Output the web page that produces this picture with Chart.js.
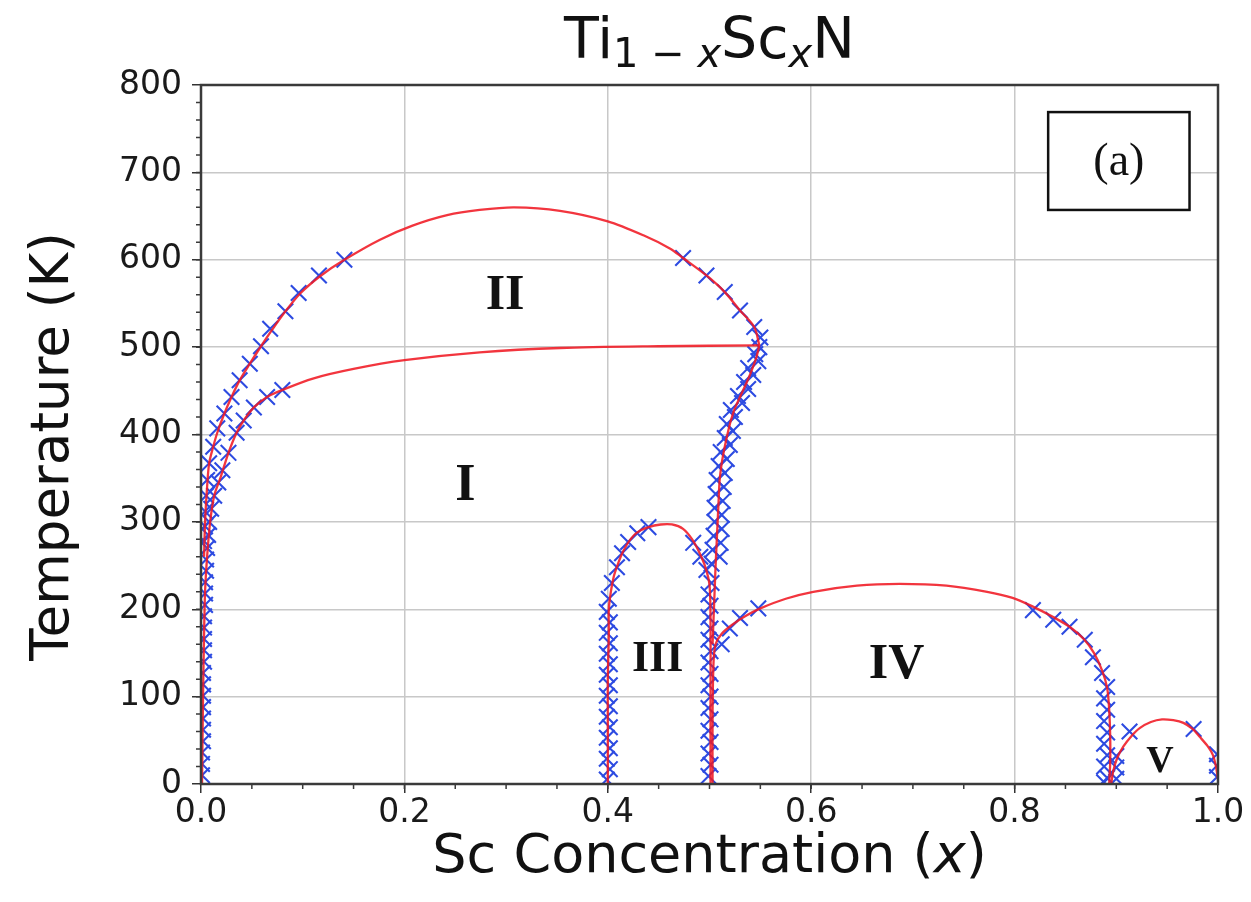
<!DOCTYPE html>
<html>
<head>
<meta charset="utf-8">
<script src="https://cdn.jsdelivr.net/npm/chart.js@4"></script>
<style>
  html, body { margin: 0; padding: 0; background: #fff; }
  #wrap { width: 1251px; height: 902px; }
</style>
</head>
<body>
<div id="wrap"><canvas id="chart" width="1251" height="902"></canvas></div>
<script>
// tick labels
const xTickValues = [0, 0.2, 0.4, 0.6, 0.8, 1.0];
const yTickValues = [0, 100, 200, 300, 400, 500, 600, 700, 800];

// fitted phase boundaries (red lines)
const fitIIx = [0.003, 0.004, 0.006, 0.008, 0.012, 0.016, 0.023, 0.030, 0.038, 0.048, 0.059, 0.070, 0.083, 0.098, 0.118, 0.141, 0.176, 0.208, 0.242, 0.274, 0.308, 0.353, 0.400, 0.435, 0.461, 0.474, 0.497, 0.515, 0.530, 0.544, 0.549];
const fitIIy = [260, 300, 340, 367, 386, 402, 424, 443, 462, 481, 501, 520, 541, 562, 582, 600, 623, 639, 651, 657, 660, 656, 644, 628, 613, 602, 582, 563, 542, 523, 502];

const fitIx = [0.001, 0.002, 0.003, 0.004, 0.006, 0.009, 0.013, 0.019, 0.027, 0.035, 0.042, 0.052, 0.065, 0.080, 0.110, 0.150, 0.200, 0.274, 0.353, 0.450, 0.549];
const fitIy = [0, 100, 170, 220, 260, 300, 330, 350, 379, 402, 416, 431, 443, 451, 464, 475, 485, 494, 499, 501, 502];

const fitIRx = [0.549, 0.546, 0.541, 0.536, 0.530, 0.525, 0.521, 0.518, 0.515, 0.512, 0.510, 0.509, 0.508, 0.507, 0.506, 0.505, 0.504, 0.503];
const fitIRy = [502, 488, 472, 458, 443, 430, 416, 402, 386, 367, 348, 325, 300, 275, 250, 220, 190, 160];

const fitIIIx = [0.400, 0.400, 0.400, 0.401, 0.401, 0.403, 0.406, 0.410, 0.415, 0.421, 0.429, 0.440, 0.452, 0.463, 0.474, 0.483, 0.490, 0.496, 0.500, 0.501, 0.501, 0.501];
const fitIIIy = [0, 60, 120, 170, 200, 220, 238, 252, 266, 278, 288, 294, 297, 297, 292, 280, 265, 248, 228, 190, 100, 0];

const fitIVx = [0.503, 0.503, 0.504, 0.506, 0.512, 0.522, 0.535, 0.550, 0.575, 0.602, 0.645, 0.687, 0.733, 0.773, 0.798, 0.818, 0.838, 0.854, 0.868, 0.878, 0.886, 0.891, 0.893, 0.894, 0.894, 0.893];
const fitIVy = [0, 80, 140, 160, 172, 182, 192, 201, 212, 220, 227, 229, 227, 220, 213, 203, 191, 180, 166, 150, 130, 110, 85, 55, 25, 0];

const fitVx = [0.895, 0.897, 0.901, 0.907, 0.915, 0.923, 0.934, 0.945, 0.956, 0.966, 0.975, 0.982, 0.990, 0.995, 0.998, 1.000];
const fitVy = [0, 15, 30, 43, 55, 64, 71, 74, 73, 70, 63, 54, 43, 33, 20, 5];

// calculated transition points (blue crosses)
const calcIIx = [0.003, 0.004, 0.004, 0.005, 0.006, 0.008, 0.012, 0.016, 0.023, 0.030, 0.038, 0.048, 0.059, 0.068, 0.083, 0.096, 0.116, 0.141, 0.474, 0.497, 0.515, 0.530, 0.544, 0.550, 0.549];
const calcIIy = [278, 295, 312, 330, 348, 367, 386, 407, 424, 443, 462, 481, 501, 521, 541, 562, 582, 600, 602, 582, 563, 542, 523, 511, 500];

const calcIx = [0.080, 0.065, 0.052, 0.042, 0.035, 0.027, 0.021, 0.017, 0.013, 0.010, 0.008, 0.007, 0.006,
  0.005, 0.005, 0.004, 0.004, 0.004, 0.003, 0.003, 0.003, 0.003, 0.003, 0.002, 0.002, 0.002, 0.002, 0.002, 0.002, 0.002, 0.001, 0.001, 0.001];
const calcIy = [451, 443, 431, 416, 402, 379, 359, 345, 330, 315, 300, 285, 270,
  257, 244, 231, 218, 205, 192, 179, 166, 153, 140, 127, 114, 101, 88, 75, 62, 49, 36, 23, 10];

const calcIRx = [0.545, 0.548, 0.538, 0.543, 0.534, 0.538, 0.528, 0.532, 0.521, 0.525, 0.517, 0.523, 0.515, 0.520, 0.511, 0.517, 0.509, 0.515, 0.507, 0.514, 0.506, 0.513, 0.505, 0.512, 0.505, 0.512, 0.504, 0.511, 0.503, 0.510, 0.502];
const calcIRy = [492, 484, 476, 468, 460, 452, 444, 436, 428, 420, 412, 404, 396, 388, 380, 372, 364, 356, 348, 340, 332, 324, 316, 308, 300, 292, 284, 276, 268, 260, 252];

const calcIIIx = [0.399, 0.402, 0.399, 0.402, 0.399, 0.402, 0.399, 0.402, 0.399, 0.402, 0.399, 0.402, 0.399, 0.402, 0.399, 0.402, 0.399,
  0.401, 0.404, 0.409, 0.414, 0.420, 0.429, 0.440, 0.484, 0.491, 0.497, 0.502,
  0.499, 0.501, 0.499, 0.501, 0.499, 0.501, 0.499, 0.501, 0.499, 0.501, 0.499, 0.501, 0.499, 0.501, 0.499, 0.501, 0.499];
const calcIIIy = [5, 17, 29, 41, 53, 65, 77, 89, 101, 113, 125, 137, 149, 161, 173, 185, 197,
  212, 230, 248, 264, 277, 287, 294, 276, 260, 245, 230,
  217, 204, 191, 178, 165, 152, 139, 126, 113, 100, 87, 74, 61, 48, 35, 22, 9];

const calcIVx = [0.512, 0.520, 0.530, 0.548, 0.818, 0.838, 0.854, 0.869, 0.877, 0.886, 0.891, 0.888, 0.891, 0.888, 0.891, 0.888, 0.891, 0.888, 0.891, 0.888];
const calcIVy = [160, 178, 190, 201, 199, 188, 180, 165, 145, 127, 111, 98, 85, 72, 59, 46, 33, 20, 7, 2];

const calcVx = [0.900, 0.900, 0.900, 0.913, 0.976, 0.999, 0.999, 0.999];
const calcVy = [6, 19, 32, 60, 63, 8, 21, 34];

const RED = 'rgba(240,25,35,0.88)';
const BLUE = 'rgb(45,75,225)';

const pts = (xs, ys) => xs.map((x, i) => ({ x: x, y: ys[i] }));

function fitLine(xs, ys) {
  return { data: pts(xs, ys), showLine: true, borderColor: RED, borderWidth: 2.3,
    pointRadius: 0, tension: 0.3, fill: false, order: 0 };
}
function crosses(xs, ys) {
  return { data: pts(xs, ys), showLine: false, pointStyle: 'crossRot', pointRadius: 11,
    pointBorderWidth: 2.1, borderColor: BLUE, backgroundColor: BLUE, order: 1 };
}

function richText(ctx, parts, x, y, align) {
  let w = 0;
  parts.forEach(p => { ctx.font = p.font; p.w = ctx.measureText(p.t).width; w += p.w; });
  let cx = align === 'center' ? x - w / 2 : x;
  ctx.textAlign = 'left';
  parts.forEach(p => { ctx.font = p.font; ctx.fillText(p.t, cx, y + (p.dy || 0)); cx += p.w; });
}

const SANS = '"DejaVu Sans", sans-serif';
const SERIF = '"Liberation Serif", "Times New Roman", serif';

const decor = {
  id: 'decor',
  afterDatasetsDraw(chart) {
    const ctx = chart.ctx;
    const a = chart.chartArea;
    const xs = chart.scales.x, ys = chart.scales.y;
    ctx.save();

    // frame
    ctx.strokeStyle = '#3a3a3a';
    ctx.lineWidth = 2.5;
    ctx.strokeRect(a.left, a.top, a.right - a.left, a.bottom - a.top);

    // minor ticks
    ctx.lineWidth = 1.5;
    ctx.beginPath();
    for (let v = 0.05; v < 1; v += 0.05) {
      const px = xs.getPixelForValue(v);
      ctx.moveTo(px, a.bottom); ctx.lineTo(px, a.bottom + 5);
    }
    for (let v = 20; v < 800; v += 20) {
      const py = ys.getPixelForValue(v);
      ctx.moveTo(a.left, py); ctx.lineTo(a.left - 5, py);
    }
    ctx.stroke();

    // region labels
    ctx.fillStyle = '#111';
    ctx.textAlign = 'center';
    ctx.textBaseline = 'middle';
    chart.options.plugins.decor.regions.forEach(r => {
      ctx.font = 'bold ' + r.size + 'px ' + SERIF;
      ctx.fillText(r.text, xs.getPixelForValue(r.x), ys.getPixelForValue(r.y));
    });

    // (a) box
    const b = chart.options.plugins.decor.box;
    const bx0 = xs.getPixelForValue(b.x0), bx1 = xs.getPixelForValue(b.x1);
    const by0 = ys.getPixelForValue(b.y0), by1 = ys.getPixelForValue(b.y1);
    ctx.fillStyle = '#fff';
    ctx.fillRect(bx0, by0, bx1 - bx0, by1 - by0);
    ctx.strokeStyle = '#111';
    ctx.lineWidth = 2.5;
    ctx.strokeRect(bx0, by0, bx1 - bx0, by1 - by0);
    ctx.fillStyle = '#111';
    ctx.font = '46px ' + SERIF;
    ctx.fillText(b.text, (bx0 + bx1) / 2, (by0 + by1) / 2 + 2);

    // title
    ctx.textBaseline = 'alphabetic';
    ctx.fillStyle = '#111';
    const big = '57px ' + SANS, sub = '40px ' + SANS, subI = 'italic 40px ' + SANS;
    richText(ctx, [
      { t: 'Ti', font: big },
      { t: '1 \u2212 ', font: sub, dy: 9 },
      { t: 'x', font: subI, dy: 9 },
      { t: 'Sc', font: big },
      { t: 'x', font: subI, dy: 9 },
      { t: 'N', font: big }
    ], (a.left + a.right) / 2, 58, 'center');

    // x axis title
    richText(ctx, [
      { t: 'Sc Concentration (', font: '54px ' + SANS },
      { t: 'x', font: 'italic 54px ' + SANS },
      { t: ')', font: '54px ' + SANS }
    ], (a.left + a.right) / 2, 872, 'center');

    // y axis title
    ctx.translate(68, (a.top + a.bottom) / 2 + 12);
    ctx.rotate(-Math.PI / 2);
    richText(ctx, [{ t: 'Temperature (K)', font: '53px ' + SANS }], 0, 0, 'center');

    ctx.restore();
  }
};

new Chart(document.getElementById('chart'), {
  type: 'scatter',
  data: {
    datasets: [
      fitLine(fitIIx, fitIIy),
      fitLine(fitIx, fitIy),
      fitLine(fitIRx, fitIRy),
      fitLine(fitIIIx, fitIIIy),
      fitLine(fitIVx, fitIVy),
      fitLine(fitVx, fitVy),
      crosses(calcIIx, calcIIy),
      crosses(calcIx, calcIy),
      crosses(calcIRx, calcIRy),
      crosses(calcIIIx, calcIIIy),
      crosses(calcIVx, calcIVy),
      crosses(calcVx, calcVy)
    ]
  },
  options: {
    responsive: false,
    animation: false,
    devicePixelRatio: 1,
    layout: { padding: { top: 85, right: 33, left: 0, bottom: 0 } },
    plugins: {
      legend: { display: false },
      tooltip: { enabled: false },
      decor: {
        regions: [
          { text: 'II', x: 0.299, y: 558, size: 50 },
          { text: 'I', x: 0.260, y: 340, size: 52 },
          { text: 'III', x: 0.449, y: 142, size: 44 },
          { text: 'IV', x: 0.684, y: 136, size: 50 },
          { text: 'V', x: 0.943, y: 25, size: 38 }
        ],
        box: { text: '(a)', x0: 0.833, x1: 0.972, y0: 769, y1: 657 }
      }
    },
    scales: {
      x: {
        type: 'linear', min: 0, max: 1,
        afterBuildTicks: s => { s.ticks = xTickValues.map(v => ({ value: v })); },
        afterFit: s => { s.height = 118; },
        ticks: { callback: v => v.toFixed(1), color: '#1a1a1a', padding: 1,
          font: { family: SANS, size: 33 } },
        grid: { color: '#c8c8c8', lineWidth: 1.5, tickLength: 9, tickColor: '#333', tickWidth: 1.5 },
        border: { display: false }
      },
      y: {
        type: 'linear', min: 0, max: 800,
        afterBuildTicks: s => { s.ticks = yTickValues.map(v => ({ value: v })); },
        afterFit: s => { s.width = 201; },
        ticks: { color: '#1a1a1a', padding: 10, font: { family: SANS, size: 33 } },
        grid: { color: '#c8c8c8', lineWidth: 1.5, tickLength: 9, tickColor: '#333', tickWidth: 1.5 },
        border: { display: false }
      }
    }
  },
  plugins: [decor]
});
</script>
</body>
</html>
